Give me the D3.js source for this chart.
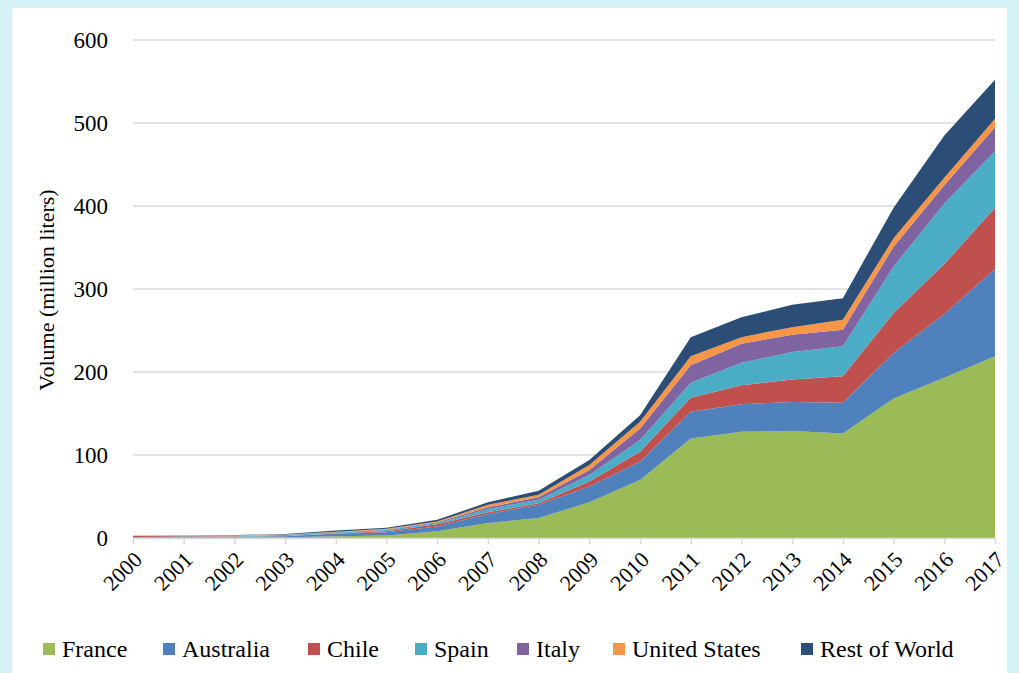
<!DOCTYPE html>
<html>
<head>
<meta charset="utf-8">
<script src="https://cdn.jsdelivr.net/npm/d3@7"></script>
<style>
  body { margin: 0; background: #d5f2f7; }
  #chart { width: 1019px; height: 673px; }
  svg text { font-family: "Liberation Serif", "DejaVu Serif", "Times New Roman", serif; }
</style>
</head>
<body>
<div id="chart"></div>
<script>
var years = ["2000","2001","2002","2003","2004","2005","2006","2007","2008","2009","2010","2011","2012","2013","2014","2015","2016","2017"];
var seriesNames = ["France", "Australia", "Chile", "Spain", "Italy", "United States", "Rest of World"];
var colors = ["#9bbb59", "#4f81bd", "#c0504d", "#4bacc6", "#8064a2", "#f79646", "#2c4d75"];
var yTicks = [0, 100, 200, 300, 400, 500, 600];

var france       = [0.5, 0.5, 0.5, 1.0, 2.0, 3.0, 8, 18, 24, 43, 70, 120, 128, 129, 126, 168, 193, 219];
var australia    = [0.3, 1.0, 0.8, 1.0, 3.0, 4.0, 6, 11, 16, 19, 22, 32, 33, 35, 37, 55, 77, 105];
var chile        = [1.5, 0.5, 0.3, 0.3, 0.5, 1.0, 2.5, 2, 2, 6, 12, 17, 23, 27, 32, 48, 60, 74];
var spain        = [0.2, 0.3, 0.3, 1.2, 0.7, 1.5, 1.5, 4, 4, 8, 14, 18, 27, 33, 36, 56, 73, 68];
var italy        = [0.2, 0.2, 0.2, 0.3, 0.8, 0.8, 1, 2, 3, 6, 14, 21, 23, 21, 20, 24, 22, 29];
var unitedStates = [0.2, 0.3, 1.2, 0.4, 0.5, 0.7, 1, 3, 3, 6, 8, 11, 8, 9, 12, 10, 9, 10];
var restOfWorld  = [0.2, 0.3, 0.3, 0.5, 1.5, 1.5, 2, 3, 5, 6, 8, 23, 24, 27, 26, 37, 51, 47];

var seriesValues = [france, australia, chile, spain, italy, unitedStates, restOfWorld];

var rows = years.map(function(y, i) {
  var r = { year: y };
  seriesNames.forEach(function(n, k) { r[n] = seriesValues[k][i]; });
  return r;
});

var svg = d3.select("#chart").append("svg").attr("width", 1019).attr("height", 673);

// white panel
svg.append("rect").attr("x", 12).attr("y", 8).attr("width", 995).attr("height", 665).attr("fill", "#fff");

var x = d3.scalePoint().domain(years).range([133, 995]);
var y = d3.scaleLinear().domain([0, 600]).range([538, 40]);

// gridlines
svg.append("g").selectAll("line")
  .data(yTicks.slice(1))
  .enter().append("line")
  .attr("x1", 133).attr("x2", 995)
  .attr("y1", function(d) { return y(d); })
  .attr("y2", function(d) { return y(d); })
  .attr("stroke", "#d9d9d9").attr("stroke-width", 1.5);

var stack = d3.stack().keys(seriesNames);
var layers = stack(rows);

var area = d3.area()
  .x(function(d) { return x(d.data.year); })
  .y0(function(d) { return y(d[0]); })
  .y1(function(d) { return y(d[1]); });

svg.append("g").selectAll("path")
  .data(layers)
  .enter().append("path")
  .attr("d", area)
  .attr("fill", function(d, i) { return colors[i]; });

// x axis
var xAxis = svg.append("g")
  .attr("transform", "translate(0,538)")
  .call(d3.axisBottom(x).tickSize(6).tickSizeOuter(0));
xAxis.attr("font-family", null);
xAxis.select(".domain").attr("stroke", "#d9d9d9").attr("stroke-width", 1.5);
xAxis.selectAll(".tick line").attr("stroke", "#d9d9d9").attr("stroke-width", 1.5);
xAxis.selectAll("text")
  .attr("font-size", "22px")
  .attr("fill", "#000")
  .attr("text-anchor", "end")
  .attr("dx", "0")
  .attr("dy", "0.55em")
  .attr("transform", "translate(-5,8) rotate(-45)");

// y axis
var yAxis = svg.append("g")
  .attr("transform", "translate(133,0)")
  .call(d3.axisLeft(y).tickValues(yTicks).tickSize(0).tickPadding(25));
yAxis.attr("font-family", null);
yAxis.select(".domain").remove();
yAxis.selectAll("text")
  .attr("font-size", "23px")
  .attr("fill", "#000");

svg.append("text")
  .attr("transform", "translate(54,290) rotate(-90)")
  .attr("text-anchor", "middle")
  .attr("font-size", "22px")
  .text("Volume (million liters)");

// legend
var legendX = [43, 163, 308, 415, 517, 613, 801];
var legend = svg.append("g").selectAll("g")
  .data(seriesNames)
  .enter().append("g")
  .attr("transform", function(d, i) { return "translate(" + legendX[i] + ",649)"; });
legend.append("rect")
  .attr("x", 0).attr("y", -6).attr("width", 12).attr("height", 12)
  .attr("fill", function(d, i) { return colors[i]; });
legend.append("text")
  .attr("x", 19).attr("y", 8)
  .attr("font-size", "24px")
  .text(function(d) { return d; });
</script>
</body>
</html>
